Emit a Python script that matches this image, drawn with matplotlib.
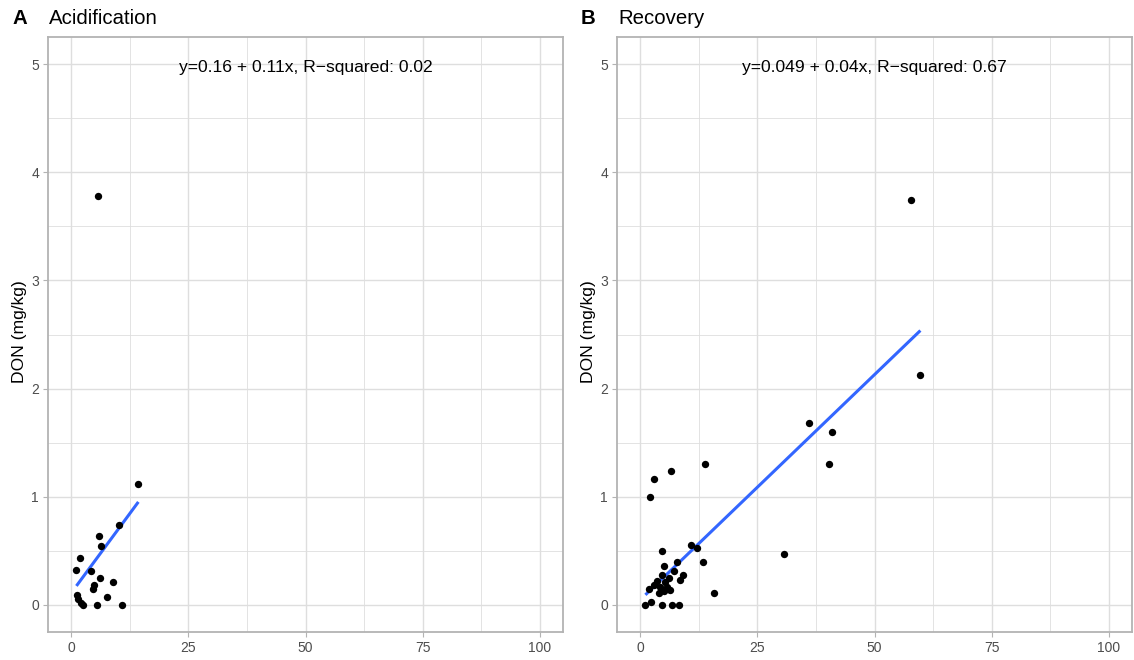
import numpy as np
import matplotlib
matplotlib.use("Agg")
import matplotlib.pyplot as plt
from matplotlib.ticker import MultipleLocator

plt.rcParams['font.family'] = ['Liberation Sans', 'DejaVu Sans']

# Acidification phase
acid_x = [5.76, 14.3, 10.2, 5.97, 6.25, 1.85, 1.07, 4.1, 6.04, 8.9,
          4.83, 4.6, 7.7, 1.28, 1.5, 2.0, 2.5, 5.4, 10.9]
acid_y = [3.78, 1.12, 0.74, 0.636, 0.546, 0.43, 0.32, 0.31, 0.25, 0.215,
          0.18, 0.145, 0.074, 0.093, 0.056, 0.016, 0.0, 0.0, 0.0]

# Recovery phase
rec_x = [57.8, 59.8, 36.1, 40.9, 40.2, 30.6, 13.86, 6.47, 2.92, 1.98, 15.7,
         4.62, 10.8, 12.1, 13.4, 7.8, 4.97, 7.25, 9.1, 8.5,
         4.62, 6.04, 3.56, 5.33, 4.26, 6.4, 4.97, 2.85, 3.9, 5.7,
         1.77, 1.07, 2.28, 4.62, 6.75, 8.2]
rec_y = [3.74, 2.13, 1.68, 1.60, 1.30, 0.47, 1.30, 1.24, 1.16, 1.00, 0.11,
         0.50, 0.556, 0.525, 0.395, 0.40, 0.36, 0.31, 0.28, 0.23,
         0.28, 0.25, 0.22, 0.21, 0.17, 0.14, 0.125, 0.185, 0.11, 0.17,
         0.145, 0.0, 0.03, 0.0, 0.0, 0.0]

# Linear trend lines (intercept, slope) shown in each panel
fit_intercept = [0.113, 0.049]
fit_slope = [0.0587, 0.0416]

panel_tags = ["A", "B"]
panel_titles = ["Acidification", "Recovery"]
equations = ["y=0.16 + 0.11x, R\u2212squared: 0.02",
             "y=0.049 + 0.04x, R\u2212squared: 0.67"]

x_ticks = [0, 25, 50, 75, 100]
y_ticks = [0, 1, 2, 3, 4, 5]

W, H = 1134, 660
fig = plt.figure(figsize=(W / 100, H / 100), dpi=100)

grey70 = "#B3B3B3"
grey87 = "#DEDEDE"
grey30 = "#4D4D4D"

series = [(acid_x, acid_y), (rec_x, rec_y)]
lefts = [48, 617]
for i, left in enumerate(lefts):
    xs_arr = np.asarray(series[i][0])
    ys_arr = np.asarray(series[i][1])

    ax = fig.add_axes([left / W, 28 / H, 515 / W, 595 / H])
    ax.set_xlim(-5, 105)
    ax.set_ylim(-0.25, 5.25)
    ax.set_xticks(x_ticks)
    ax.set_yticks(y_ticks)
    ax.xaxis.set_minor_locator(MultipleLocator(12.5))
    ax.yaxis.set_minor_locator(MultipleLocator(0.5))
    ax.grid(True, which="major", color=grey87, lw=1.0)
    ax.grid(True, which="minor", color=grey87, lw=0.6)
    ax.set_axisbelow(True)
    for sp in ax.spines.values():
        sp.set_color(grey70)
        sp.set_linewidth(1.3)
    ax.tick_params(which="major", length=3.5, width=0.8, color=grey70,
                   labelcolor=grey30, labelsize=10, pad=3)
    ax.tick_params(which="minor", length=0)

    xl = np.array([xs_arr.min(), xs_arr.max()])
    ax.plot(xl, fit_intercept[i] + fit_slope[i] * xl, color="#3366FF",
            lw=2.2, solid_capstyle="butt", zorder=2)
    ax.scatter(xs_arr, ys_arr, s=28, color="black", zorder=3, linewidths=0)

    ax.text(50, 4.97, equations[i], ha="center", va="center",
            fontsize=12.6, color="black")
    ax.set_ylabel("DON (mg/kg)", fontsize=12.6, color="black")
    ax.yaxis.set_label_coords(-21 / 515, 0.505)

    fig.text((left - 36) / W, 1 - 18 / H, panel_tags[i], fontsize=14.7,
             fontweight="bold", ha="left", va="center")
    fig.text((left + 1) / W, 1 - 18 / H, panel_titles[i], fontsize=14.7,
             ha="left", va="center")

fig.savefig("out.png", dpi=100)
